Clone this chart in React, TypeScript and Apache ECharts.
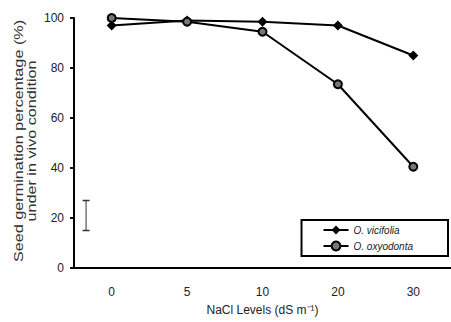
import React, { useEffect, useRef } from "react";
import * as echarts from "echarts";

const categories = ["0", "5", "10", "20", "30"];
const vicifolia = [97, 99, 98.5, 97, 85];
const oxyodonta = [100, 98.5, 94.5, 73.5, 40.5];
// error bar: [category index, offset in band widths, low, high]
const errorBar = [[0, -0.34, 15, 27]];
const yTicks = { min: 0, max: 100, interval: 20 };
const yTickValues = [0, 20, 40, 60, 80, 100];
const yTitle = ["Seed germination percentage (%)", "under in vivo condition"];
const xTitle = "NaCl Levels (dS m⁻¹)";

export default function App() {
  const ref = useRef<HTMLDivElement>(null);
  useEffect(() => {
    if (!ref.current) return;
    const chart = echarts.init(ref.current, null, { renderer: "svg" });
    const font = "Arial, 'Liberation Sans', sans-serif";
    chart.setOption({
      animation: false,
      grid: { left: 74, right: 0, top: 18, bottom: 54 },
      xAxis: {
        type: "category",
        data: categories,
        axisLine: { lineStyle: { color: "#000", width: 2 } },
        axisTick: { lineStyle: { color: "#000", width: 1.5 } },
        axisLabel: { color: "#222", fontSize: 12, fontFamily: font, margin: 18 },
        name: xTitle,
        nameLocation: "middle",
        nameGap: 36,
        nameTextStyle: { color: "#222", fontSize: 12, fontFamily: font },
      },
      yAxis: {
        type: "value",
        min: yTicks.min,
        max: yTicks.max,
        interval: yTicks.interval,
        splitLine: { show: false },
        axisLine: { show: true, lineStyle: { color: "#000", width: 2 } },
        axisTick: { show: true, length: 4, lineStyle: { color: "#000", width: 1.5 } },
        axisLabel: { color: "#222", fontSize: 12, fontFamily: font, margin: 10 },
      },
      legend: {
        orient: "vertical",
        right: 3,
        top: 220,
        borderColor: "#000",
        borderWidth: 2,
        borderRadius: 0,
        backgroundColor: "#fff",
        padding: [4, 35, 4, 21],
        itemWidth: 25,
        itemHeight: 11,
        itemGap: 4,
        lineStyle: { width: 2, color: "#000" },
        textStyle: { color: "#222", fontSize: 10, fontStyle: "italic", fontFamily: font, lineHeight: 12 },
        data: ["O. vicifolia", "O. oxyodonta"],
      },
      graphic: [
        {
          type: "text",
          x: 19,
          y: 141,
          rotation: Math.PI / 2,
          scaleX: 1.35,
          style: { text: yTitle[0], align: "center", verticalAlign: "middle", fill: "#333", font: "12px " + font },
        },
        {
          type: "text",
          x: 32,
          y: 141,
          rotation: Math.PI / 2,
          scaleX: 1.35,
          style: { text: yTitle[1], align: "center", verticalAlign: "middle", fill: "#333", font: "12px " + font },
        },
      ],
      series: [
        {
          name: "O. vicifolia",
          type: "line",
          data: vicifolia,
          symbol: "diamond",
          symbolSize: 10,
          lineStyle: { color: "#000", width: 2 },
          itemStyle: { color: "#000" },
          z: 3,
        },
        {
          name: "O. oxyodonta",
          type: "line",
          data: oxyodonta,
          symbol: "circle",
          symbolSize: 8,
          lineStyle: { color: "#000", width: 2 },
          itemStyle: { color: "#777", borderColor: "#000", borderWidth: 2 },
          z: 4,
        },
        {
          type: "custom",
          data: errorBar,
          encode: { x: 0, y: [2, 3] },
          renderItem: (params: any, api: any) => {
            const band = api.size([1, 0])[0];
            const lo = api.coord([api.value(0), api.value(2)]);
            const hi = api.coord([api.value(0), api.value(3)]);
            const x = lo[0] + api.value(1) * band;
            const cap = 3.5;
            return {
              type: "group",
              children: [
                { type: "line", shape: { x1: x, y1: lo[1], x2: x, y2: hi[1] }, style: { stroke: "#333", lineWidth: 1 } },
                { type: "line", shape: { x1: x - cap, y1: lo[1], x2: x + cap, y2: lo[1] }, style: { stroke: "#333", lineWidth: 1.5 } },
                { type: "line", shape: { x1: x - cap, y1: hi[1], x2: x + cap, y2: hi[1] }, style: { stroke: "#333", lineWidth: 1.5 } },
              ],
            };
          },
        },
        {
          // y-axis line and ticks, drawn on the value scale at the grid's left edge
          type: "custom",
          silent: true,
          z: 6,
          data: yTickValues.map((v) => [0, v]),
          encode: { x: 0, y: 1 },
          renderItem: (params: any, api: any) => {
            const cs = params.coordSys;
            const left = cs.x;
            const y = api.coord([0, api.value(1)])[1];
            const children: any[] = [
              { type: "line", shape: { x1: left - 4, y1: y, x2: left, y2: y }, style: { stroke: "#000", lineWidth: 1.5 } },
            ];
            if (params.dataIndex === 0) {
              const yTop = api.coord([0, yTicks.max])[1];
              children.push({ type: "line", shape: { x1: left, y1: y + 1, x2: left, y2: yTop }, style: { stroke: "#000", lineWidth: 2 } });
            }
            return { type: "group", children };
          },
        },
      ],
    });
    return () => chart.dispose();
  }, []);
  return <div ref={ref} style={{ width: 451, height: 322, position: "fixed", left: 0, top: 0, background: "#fff" }} />;
}
